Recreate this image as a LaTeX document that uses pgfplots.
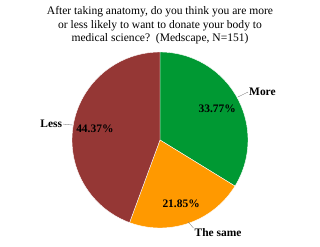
\documentclass[border=0pt]{standalone}
\usepackage{pgfplots}
\pgfplotsset{compat=1.18}
\usepackage{pgfplotstable}
\usepackage{fontspec}
\setmainfont{Liberation Serif}
\definecolor{cMore}{RGB}{0,153,51}
\definecolor{cSame}{RGB}{255,153,0}
\definecolor{cLess}{RGB}{149,55,53}
% slice values (percent)
\pgfplotstableread{
name value
More 33.77
Same 21.85
Less 44.37
}\piedata
\tikzset{lbl/.style={font=\fontsize{11.5}{13}\selectfont\bfseries}}
\begin{document}
\begin{tikzpicture}[x=1bp,y=1bp]
\useasboundingbox (0,0) rectangle (320,247);
\node[align=center,font=\fontsize{11.6}{13.4}\selectfont] at (160,221.5)
  {After taking anatomy, do you think you are more\\or less likely to want to donate your body to\\medical science?\ \ (Medscape, N=151)};
\begin{axis}[
  at={(160bp,107bp)}, anchor=center,
  scale only axis, width=176bp, height=176bp,
  xmin=-1, xmax=1, ymin=-1, ymax=1,
  hide axis, clip=false,
]
% More: 90 -> 90-33.77*3.6
\addplot[draw=white, line width=0.4pt, fill=cMore, domain=90:-31.572, samples=60]
  ({cos(x)},{sin(x)}) -- (axis cs:0,0) -- cycle;
\addplot[draw=white, line width=0.4pt, fill=cSame, domain=-31.572:-110.232, samples=50]
  ({cos(x)},{sin(x)}) -- (axis cs:0,0) -- cycle;
\addplot[draw=white, line width=0.4pt, fill=cLess, domain=-110.232:-270, samples=80]
  ({cos(x)},{sin(x)}) -- (axis cs:0,0) -- cycle;
\node[lbl] at (axis cs:0.65,0.35) {33.77\%};
\node[lbl] at (axis cs:0.24,-0.72) {21.85\%};
\node[lbl] at (axis cs:-0.74,0.125) {44.37\%};
\draw[gray, thin] (axis cs:0.886,0.489) -- (axis cs:1.0,0.545);
\node[lbl, anchor=west, inner sep=1pt] at (axis cs:1.0,0.545) {More};
\draw[gray, thin] (axis cs:-0.989,0.17) -- (axis cs:-1.1,0.18);
\node[lbl, anchor=east, inner sep=1pt] at (axis cs:-1.1,0.18) {Less};
\draw[gray, thin] (axis cs:0.32,-0.93) -- (axis cs:0.38,-1.0);
\node[lbl, anchor=north west, inner sep=1pt] at (axis cs:0.38,-0.99) {The same};
\end{axis}
\end{tikzpicture}
\end{document}
